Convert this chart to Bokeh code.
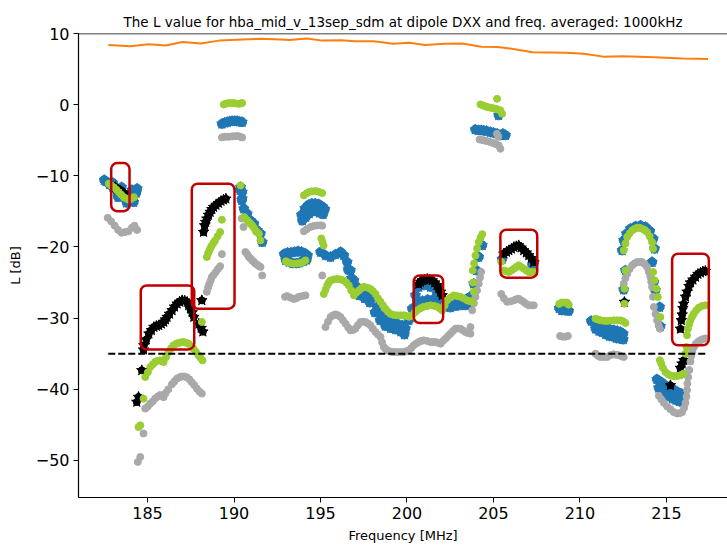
from bokeh.plotting import figure
from bokeh.models import BoxAnnotation, Span, FixedTicker, Title
from bokeh.embed import file_html
from bokeh.resources import INLINE

# Frequency-averaged L values (dB) versus frequency (MHz)
orange_freq = [182.73, 184.01, 185.06, 186.05, 187.03, 188.08, 189.13, 190.52, 191.57, 192.67,
               193.2, 194.19, 195.12, 196.22, 196.98, 198.08, 199.19, 200.12, 201.05, 202.15,
               203.2, 204.3, 205.23, 206.22, 207.27, 209.19, 210.23, 211.34, 212.44, 214.3,
               215.93, 217.4]
orange_db = [8.4, 8.2, 8.5, 8.3, 8.8, 8.6, 9.0, 9.15, 9.25, 9.15,
             9.1, 9.3, 9.0, 9.05, 8.9, 8.9, 8.55, 8.7, 8.4, 8.55,
             8.6, 8.15, 8.1, 7.8, 7.35, 7.3, 7.15, 6.75, 6.8, 6.65,
             6.5, 6.4]

threshold_db = -35.0

gray_pts = [
    (182.7, -15.9), (182.9, -16.4), (183.1, -17.0), (183.3, -17.6), (183.5, -18.0), (183.7, -17.9),
    (183.9, -17.8), (184.1, -17.3), (184.25, -17.0), (184.4, -17.6),
    (184.44, -50.2), (184.58, -49.5), (184.77, -46.2),
    (184.87, -42.7), (185.02, -42.4), (185.16, -42.0), (185.3, -41.7), (185.44, -41.3), (185.6, -41.0),
    (185.73, -40.8), (185.93, -41.1), (186.05, -40.5), (186.2, -40.0), (186.41, -39.3), (186.55, -38.9),
    (186.7, -38.5), (186.85, -38.3), (186.99, -38.2), (187.13, -38.2), (187.27, -38.3), (187.42, -38.6),
    (187.56, -39.0), (187.7, -39.4), (187.85, -39.9), (188.0, -40.3), (188.14, -40.6),
    (188.43, -26.3), (188.5, -25.7), (188.57, -25.2), (188.65, -24.7), (188.72, -24.2), (188.83, -23.9),
    (188.95, -23.5), (189.07, -23.1), (189.2, -22.7), (189.3, -21.0),
    (189.3, -4.6), (189.45, -4.5), (189.6, -4.5), (189.75, -4.5), (189.9, -4.45), (190.05, -4.45),
    (190.2, -4.4), (190.35, -4.5), (190.47, -4.6),
    (190.45, -16.0), (190.55, -17.2), (190.66, -20.7), (190.76, -21.0), (190.86, -21.4), (190.95, -21.6),
    (191.05, -21.9), (191.15, -22.1), (191.24, -22.35), (191.35, -22.5), (191.45, -22.7), (191.53, -22.8),
    (191.63, -24.0),
    (192.95, -27.0), (193.07, -26.9), (193.25, -27.1), (193.46, -27.3), (193.6, -27.2), (193.75, -27.0),
    (193.95, -26.9), (194.13, -26.8),
    (194.04, -17.8), (194.2, -17.5), (194.42, -17.2), (194.6, -17.05), (194.81, -16.97), (195.0, -16.95),
    (195.1, -17.0), (195.1, -24.0),
    (195.29, -31.25), (195.43, -30.5), (195.58, -29.84), (195.72, -29.6), (195.87, -29.47), (196.01, -29.6),
    (196.16, -29.84), (196.3, -30.3), (196.45, -30.78), (196.6, -31.3), (196.73, -31.71), (196.88, -31.65),
    (197.02, -31.48), (197.16, -31.0), (197.31, -30.54), (197.45, -30.5), (197.6, -30.54), (197.75, -30.75),
    (197.89, -31.01), (198.03, -31.5), (198.18, -31.95), (198.32, -32.3), (198.47, -32.65), (198.56, -33.4),
    (198.66, -34.05), (198.75, -34.3), (198.85, -34.52), (199.0, -34.65), (199.14, -34.76), (199.28, -34.76),
    (199.43, -34.76), (199.62, -34.76), (199.82, -34.76), (199.96, -34.65), (200.11, -34.52), (200.25, -34.2),
    (200.39, -33.82), (200.54, -33.55), (200.68, -33.35), (200.82, -33.2), (200.97, -33.12), (201.16, -33.2),
    (201.36, -33.35), (201.5, -33.35), (201.65, -33.35), (201.8, -33.45), (201.94, -33.59), (202.08, -33.2),
    (202.23, -32.88), (202.37, -32.5), (202.51, -32.18), (202.66, -31.8), (202.8, -31.48), (202.95, -31.45),
    (203.09, -31.48), (203.23, -31.7), (203.38, -31.95), (203.52, -32.1), (203.67, -32.18), (203.67, -31.25),
    (203.77, -28.9), (203.87, -27.9), (203.96, -27.0), (204.05, -26.1), (204.15, -25.16), (204.22, -24.3),
    (204.29, -23.5),
    (204.2, -4.9), (204.35, -4.95), (204.5, -5.05), (204.63, -5.12), (204.8, -5.25), (205.0, -5.4),
    (205.15, -5.55), (205.31, -5.75), (205.4, -6.2), (205.2, -4.1), (205.28, -4.5),
    (205.45, -26.6), (205.6, -27.2), (205.79, -27.7), (205.98, -27.65), (206.18, -27.5), (206.32, -27.35),
    (206.46, -27.27), (206.6, -27.5), (206.75, -27.73), (206.9, -28.0), (207.04, -28.2), (207.2, -28.2),
    (207.33, -28.2),
    (208.85, -32.5), (209.0, -32.6), (209.15, -32.6), (209.3, -32.5),
    (210.9, -35.0), (211.05, -35.3), (211.19, -35.46), (211.38, -35.46), (211.57, -35.46), (211.76, -35.2),
    (211.96, -35.08), (212.1, -35.15), (212.24, -35.2), (212.4, -35.35), (212.53, -35.46),
    (212.53, -25.16), (212.63, -24.4), (212.73, -23.75), (212.87, -23.1), (213.02, -22.58), (213.16, -22.3),
    (213.31, -22.12), (213.45, -22.1), (213.59, -22.12), (213.74, -22.4), (213.88, -22.82), (213.98, -23.5),
    (214.07, -24.22), (214.12, -24.9), (214.17, -25.63), (214.22, -27.0), (214.27, -28.44), (214.37, -29.4),
    (214.46, -30.31), (214.55, -31.0), (214.62, -31.48),
    (214.56, -40.9), (214.7, -41.4), (214.85, -41.9), (215.04, -42.4), (215.23, -42.8), (215.42, -43.2),
    (215.62, -43.4), (215.77, -43.35), (215.91, -43.2), (216.02, -42.6), (216.1, -41.9), (216.16, -41.0),
    (216.19, -40.1), (216.21, -39.2), (216.26, -38.3), (216.32, -37.3), (216.39, -36.1), (216.44, -35.3),
    (216.5, -34.6), (216.6, -34.0), (216.7, -33.6), (216.83, -33.3), (216.97, -33.1), (217.1, -32.95),
    (217.25, -32.85),
]

green_pts = [
    (182.76, -11.1), (182.9, -11.35), (183.05, -11.6), (183.2, -11.95), (183.34, -12.3), (183.48, -12.65),
    (183.63, -13.0), (183.78, -13.2), (183.92, -13.36), (184.07, -13.2), (184.21, -13.0),
    (184.48, -45.3), (184.58, -45.06), (184.77, -41.31), (188.14, -30.54),
    (184.87, -38.27), (185.02, -37.6), (185.16, -36.86), (185.3, -36.5), (185.44, -36.16), (185.58, -36.0),
    (185.73, -35.93), (185.83, -36.05), (185.93, -36.16), (186.07, -35.5), (186.21, -34.76), (186.36, -34.25),
    (186.5, -33.82), (186.65, -33.6), (186.79, -33.49), (186.94, -33.4), (187.08, -33.35), (187.22, -33.45),
    (187.37, -33.59), (187.52, -33.9), (187.66, -34.29), (187.8, -34.75), (187.95, -35.22), (188.07, -35.6),
    (188.18, -35.93),
    (188.43, -21.41), (188.5, -20.9), (188.57, -20.48), (188.65, -20.1), (188.72, -19.78), (188.82, -19.4),
    (188.91, -19.07), (189.05, -18.5), (189.2, -17.9), (189.3, -16.17),
    (189.41, 0.03), (189.55, 0.15), (189.7, 0.22), (189.85, 0.22), (189.99, 0.22), (190.14, 0.15),
    (190.28, 0.12), (190.4, 0.18), (190.47, 0.22),
    (190.38, -11.35), (190.59, -15.8), (190.66, -16.03), (190.76, -16.25), (190.86, -16.5), (190.95, -16.7),
    (191.05, -16.97), (191.15, -17.3), (191.24, -17.67), (191.34, -17.9), (191.44, -18.14), (191.53, -19.07),
    (193.0, -22.0), (193.07, -22.12), (193.25, -22.25), (193.46, -22.35), (193.65, -22.3), (193.84, -22.26),
    (194.0, -22.1), (194.13, -21.88),
    (194.04, -12.75), (194.2, -12.45), (194.33, -12.28), (194.5, -12.18), (194.71, -12.14), (194.9, -12.25),
    (195.1, -12.42), (195.05, -18.8), (195.12, -19.3), (195.18, -19.8),
    (195.19, -26.6), (195.29, -26.0), (195.39, -25.4), (195.48, -25.0), (195.58, -24.7), (195.77, -24.55),
    (195.96, -24.5), (196.15, -24.55), (196.35, -24.7), (196.5, -25.0), (196.64, -25.4), (196.78, -26.1),
    (196.93, -26.8), (197.08, -26.4), (197.22, -26.1), (197.36, -25.8), (197.51, -25.6), (197.7, -25.7),
    (197.89, -25.9), (198.03, -26.2), (198.18, -26.6), (198.32, -27.2), (198.47, -27.7), (198.61, -28.2),
    (198.76, -28.7), (198.9, -29.1), (199.05, -29.4), (199.24, -29.55), (199.43, -29.6), (199.62, -29.6),
    (199.82, -29.6), (199.96, -29.7), (200.11, -29.8), (200.2, -29.7), (200.3, -29.6), (200.45, -29.2),
    (200.59, -28.9), (200.78, -28.6), (200.97, -28.4), (201.16, -28.3), (201.36, -28.2), (201.55, -28.25),
    (201.74, -28.4), (201.89, -28.6), (202.03, -28.9), (202.18, -28.2), (202.32, -27.5), (202.52, -27.1),
    (202.71, -26.8), (202.9, -26.9), (203.09, -27.0), (203.29, -27.25), (203.48, -27.5), (203.62, -27.6),
    (203.77, -27.7), (203.86, -26.3), (203.82, -25.0),
    (203.8, -23.3), (203.88, -22.3), (203.96, -21.2), (204.05, -20.2), (204.15, -19.3), (204.25, -18.7),
    (204.35, -18.2),
    (204.25, 0.03), (204.4, -0.1), (204.54, -0.25), (204.68, -0.35), (204.83, -0.44), (204.98, -0.5),
    (205.12, -0.58), (205.21, 0.82), (205.26, -0.7), (205.4, -0.81), (205.5, -1.28),
    (205.45, -22.1), (205.6, -23.29), (205.75, -23.4), (205.89, -23.52), (206.04, -23.3), (206.18, -23.05),
    (206.32, -22.8), (206.46, -22.58), (206.6, -22.8), (206.75, -23.05), (206.9, -23.3), (207.04, -23.52),
    (207.18, -23.52), (207.33, -23.52),
    (208.8, -28.0), (208.95, -27.8), (209.1, -27.8), (209.25, -27.8), (209.35, -28.1),
    (210.9, -30.07), (211.05, -30.2), (211.19, -30.31), (211.38, -30.38), (211.57, -30.4), (211.76, -30.35),
    (211.96, -30.31), (212.15, -30.31), (212.34, -30.31), (212.49, -30.45), (212.63, -30.68),
    (212.53, -20.48), (212.63, -19.5), (212.73, -18.6), (212.87, -18.1), (213.02, -17.67), (213.16, -17.45),
    (213.31, -17.29), (213.45, -17.3), (213.59, -17.43), (213.74, -17.6), (213.88, -17.9), (214.03, -18.5),
    (214.17, -19.31), (214.23, -20.24),
    (212.63, -23.29), (212.57, -25.86), (212.57, -27.97), (214.23, -23.52), (214.31, -24.69), (214.42, -25.86),
    (214.5, -27.03), (214.65, -29.84),
    (214.62, -35.9), (214.7, -36.4), (214.8, -37.0), (214.94, -37.57), (215.08, -37.85), (215.23, -38.03),
    (215.38, -38.12), (215.52, -38.17), (215.67, -38.1), (215.81, -38.03), (215.92, -37.9), (216.0, -37.8),
    (216.1, -35.0), (216.16, -34.05), (216.19, -32.4), (216.24, -31.5), (216.32, -30.8), (216.39, -30.31),
    (216.48, -29.8), (216.58, -29.37), (216.72, -28.9), (216.87, -28.53), (217.05, -28.3), (217.25, -28.2),
]

blue_pts = [
    (182.5, -10.6), (182.6, -10.8), (182.8, -11.2), (183.0, -11.6), (183.0, -11.0), (183.2, -12.0),
    (183.4, -12.4), (183.3, -13.0), (183.6, -12.8), (183.5, -11.6), (183.8, -13.0), (183.8, -13.8),
    (184.0, -13.0), (184.1, -12.0), (184.2, -12.8), (184.2, -13.7), (184.35, -12.4), (184.4, -11.8),
    (189.3, -2.7), (189.45, -2.55), (189.61, -2.45), (189.75, -2.35), (189.89, -2.31), (190.04, -2.31),
    (190.18, -2.31), (190.33, -2.4), (190.47, -2.45),
    (190.36, -12.05), (190.38, -11.58), (190.45, -13.45), (190.47, -12.29), (190.47, -13.22), (190.57, -14.63),
    (190.76, -15.33), (190.95, -16.27), (191.15, -16.73), (191.34, -17.67), (191.53, -18.14), (191.63, -19.31),
    (192.9, -21.0), (193.1, -20.8), (193.3, -20.8), (193.5, -20.7), (193.7, -20.6), (193.9, -20.7),
    (194.1, -20.9), (194.25, -21.2), (193.0, -21.9), (193.2, -22.1), (193.4, -22.3), (193.6, -22.3),
    (193.8, -22.2), (194.0, -22.0), (194.2, -21.8),
    (193.9, -15.5), (194.1, -14.6), (194.3, -14.1), (194.5, -13.9), (194.7, -13.9), (194.9, -14.0),
    (195.1, -14.3), (195.25, -14.7), (193.95, -16.3), (194.15, -15.8), (194.35, -15.3), (194.55, -15.0),
    (194.75, -15.0), (194.95, -15.2), (195.15, -15.4),
    (195.0, -20.71), (195.29, -21.18), (195.58, -21.41), (195.87, -21.04), (196.16, -20.71), (196.35, -21.18),
    (196.54, -22.12), (196.73, -23.29), (196.93, -24.69), (197.12, -25.63), (197.41, -26.1), (197.7, -26.33),
    (197.99, -27.03), (198.28, -28.44), (198.57, -29.61), (198.85, -30.31), (199.14, -30.54), (199.43, -30.78),
    (199.72, -31.01), (199.91, -31.48), (200.11, -30.31), (200.3, -28.67), (200.49, -26.8), (200.68, -25.63),
    (200.97, -25.39), (201.36, -25.63), (201.74, -26.57), (202.03, -27.5), (202.32, -27.73), (202.71, -27.5),
    (203.09, -27.27), (203.48, -27.27), (203.77, -26.8), (203.86, -25.16), (204.02, -23.29), (204.15, -21.41),
    (204.35, -19.77),
    (196.6, -23.2), (196.8, -24.4), (197.0, -25.8), (197.25, -26.8), (197.55, -27.2), (197.85, -27.8),
    (198.15, -29.2), (198.45, -30.3), (198.75, -31.1), (199.05, -31.4), (199.35, -31.6), (199.65, -31.9),
    (199.85, -32.3), (200.6, -27.8), (200.9, -27.6), (201.2, -27.4), (201.5, -27.4), (201.8, -27.8),
    (202.2, -28.4), (202.5, -28.5), (202.8, -28.3), (203.1, -28.2), (203.4, -28.2), (203.65, -28.0),
    (203.95, -3.5), (204.15, -3.6), (204.3, -3.6), (204.44, -3.65), (204.6, -3.7), (204.83, -3.86),
    (205.0, -3.95), (205.21, -4.09), (205.4, -4.33), (205.55, -4.1), (205.7, -4.3), (205.3, -1.5),
    (205.5, -21.7), (207.25, -22.6), (207.35, -22.2),
    (208.8, -28.6), (208.95, -28.9), (209.1, -28.9), (209.25, -28.7), (209.35, -29.0),
    (210.65, -30.4), (210.8, -30.5), (211.0, -30.8), (211.19, -31.0), (211.38, -31.2), (211.57, -31.4),
    (211.76, -31.6), (211.96, -31.7), (212.15, -31.8), (212.34, -31.95), (212.5, -32.2),
    (210.9, -31.5), (211.1, -31.8), (211.3, -32.0), (211.5, -32.3), (211.7, -32.5), (211.9, -32.6),
    (212.1, -32.8), (212.3, -32.9), (212.5, -33.0),
    (212.44, -20.48), (212.53, -19.07), (212.69, -18.14), (212.92, -17.43), (213.21, -17.1), (213.5, -16.97),
    (213.79, -17.2), (214.04, -17.76), (214.23, -18.84), (214.31, -20.24),
    (214.17, -22.12), (212.63, -23.29), (212.53, -26.0), (214.27, -24.92), (214.36, -26.1), (214.61, -28.44),
    (214.65, -31.15),
    (214.45, -38.6), (214.65, -38.9), (214.85, -39.3), (215.05, -39.6), (215.25, -39.9), (215.45, -40.1),
    (215.65, -40.4), (215.85, -40.6), (216.0, -40.9), (214.55, -39.8), (214.75, -40.3), (214.95, -40.7),
    (215.15, -41.0), (215.35, -41.3), (215.55, -41.5), (215.75, -41.7), (215.95, -41.8),
]

black_pts = [
    (183.13, -11.6), (183.22, -11.8), (183.32, -11.96), (183.42, -12.15), (183.52, -12.29), (183.6, -12.4),
    (183.67, -12.52),
    (184.38, -41.78), (184.48, -41.08), (184.67, -37.33), (184.77, -34.43), (184.79, -33.82), (184.93, -33.0),
    (185.08, -32.18), (185.22, -31.7), (185.37, -31.25), (185.51, -31.1), (185.65, -31.01), (185.8, -30.8),
    (185.94, -30.54), (186.04, -30.2), (186.13, -29.84), (186.27, -29.4), (186.42, -28.9), (186.56, -28.4),
    (186.71, -27.97), (186.85, -27.7), (187.0, -27.5), (187.15, -27.55), (187.29, -27.73), (187.38, -28.2),
    (187.48, -28.67), (187.58, -29.2), (187.68, -29.84), (187.97, -30.8), (188.1, -31.4), (188.2, -31.9),
    (188.14, -27.5),
    (188.24, -17.9), (188.3, -16.97), (188.36, -16.5), (188.43, -16.03), (188.52, -15.5), (188.62, -15.09),
    (188.72, -14.7), (188.82, -14.39), (188.96, -14.1), (189.1, -13.83), (189.25, -13.55), (189.39, -13.36),
    (189.53, -13.22),
    (200.68, -25.2), (200.78, -24.9), (200.88, -24.7), (201.02, -24.6), (201.17, -24.5), (201.31, -24.6),
    (201.46, -24.7), (201.6, -25.0), (201.74, -25.4), (201.84, -25.8), (201.94, -26.3), (202.03, -26.8),
    (205.6, -20.95), (205.75, -20.7), (205.89, -20.48), (206.04, -20.25), (206.18, -20.01), (206.32, -19.9),
    (206.46, -19.78), (206.6, -20.1), (206.75, -20.48), (206.9, -20.8), (207.04, -21.18), (207.18, -21.6),
    (207.33, -22.12),
    (212.57, -27.73), (215.23, -39.44),
    (215.8, -37.0), (215.9, -36.4), (216.0, -35.9),
    (215.81, -31.5), (215.86, -30.3), (215.91, -29.5), (215.95, -28.6), (216.0, -28.0), (216.1, -27.0),
    (216.19, -26.3), (216.3, -25.5), (216.39, -25.0), (216.53, -24.6), (216.68, -24.2), (216.82, -23.8),
    (216.97, -23.6), (217.11, -23.45), (217.25, -23.38),
]

# Highlighted frequency windows: (f_start, f_end, dB_top, dB_bottom)
highlight_boxes = [
    (182.9, 183.96, -8.2, -14.96),
    (184.61, 187.7, -25.4, -34.4),
    (187.56, 190.03, -11.1, -28.67),
    (200.39, 202.09, -23.99, -30.69),
    (205.4, 207.53, -17.57, -24.31),
    (215.33, 217.45, -20.94, -33.82),
]

x_ticks = [185, 190, 195, 200, 205, 210, 215]
y_ticks = [-50, -40, -30, -20, -10, 0, 10]

FONT = "DejaVu Sans"
BLUE = "#1f77b4"
GRAY = "#a9a9a9"
GREEN = "#9acd32"

p = figure(width=727, height=546, x_range=(181.01, 218.53), y_range=(-55.2, 10),
           output_backend="svg", toolbar_location=None,
           min_border_left=78, min_border_right=0, min_border_top=33, min_border_bottom=49)
p.title = Title(text="The L value for hba_mid_v_13sep_sdm at dipole DXX and freq. averaged: 1000kHz",
                align="center", text_font=FONT, text_font_size="13.5px",
                text_font_style="normal", text_color="black", standoff=7)
p.outline_line_color = None
p.xgrid.visible = False
p.ygrid.visible = False
p.background_fill_color = "white"
p.border_fill_color = "white"

for ax in (p.xaxis, p.yaxis):
    ax.major_tick_in = 0
    ax.major_tick_out = 5
    ax.minor_tick_line_color = None
    ax.axis_line_color = "black"
    ax.axis_line_width = 1.2
    ax.major_tick_line_color = "black"
    ax.major_label_text_font = FONT
    ax.major_label_text_font_size = "16px"
    ax.major_label_text_color = "black"
    ax.axis_label_text_font = FONT
    ax.axis_label_text_font_size = "13px"
    ax.axis_label_text_font_style = "normal"
    ax.axis_label_text_color = "black"

p.xaxis.ticker = FixedTicker(ticks=x_ticks)
p.yaxis.ticker = FixedTicker(ticks=y_ticks)
p.yaxis.major_label_overrides = {t: str(t).replace("-", "\u2212") for t in y_ticks}
p.xaxis.axis_label = "Frequency [MHz]"
p.yaxis.axis_label = "L [dB]"
p.xaxis.major_label_standoff = 4
p.yaxis.major_label_standoff = 4
p.xaxis.axis_label_standoff = 6
p.yaxis.axis_label_standoff = 10

p.add_layout(Span(location=10, dimension="width", line_color="black", line_width=1.5))


def unzip(pts):
    return [a for a, _ in pts], [b for _, b in pts]


# blue and black stars sit on a filled core so dense runs read as a cloud
bx, by = unzip(blue_pts)
p.scatter(bx, by, marker="circle", size=9, fill_color=BLUE, line_color=BLUE)
p.scatter(bx, by, marker="star", size=11, fill_color=BLUE, line_color=BLUE)
kx, ky = unzip(black_pts)
p.scatter(kx, ky, marker="circle", size=7, fill_color="black", line_color="black")
p.scatter(kx, ky, marker="star", size=11, fill_color="black", line_color="black")
gx, gy = unzip(gray_pts)
p.scatter(gx, gy, marker="circle", size=7, fill_color=GRAY, line_color=GRAY)
ex, ey = unzip(green_pts)
p.scatter(ex, ey, marker="circle", size=7, fill_color=GREEN, line_color=GREEN)

p.line(orange_freq, orange_db, line_color="#ff7f0e", line_width=2)
p.line([min(orange_freq), max(orange_freq)], [threshold_db, threshold_db],
       line_color="black", line_width=2, line_dash="7 3")

for f0, f1, top, bottom in highlight_boxes:
    p.add_layout(BoxAnnotation(left=f0, right=f1, top=top, bottom=bottom,
                               fill_alpha=0, line_color="#c00000", line_alpha=1.0,
                               line_width=2.5, border_radius=6))

open("out.html", "w").write(file_html(p, INLINE))
